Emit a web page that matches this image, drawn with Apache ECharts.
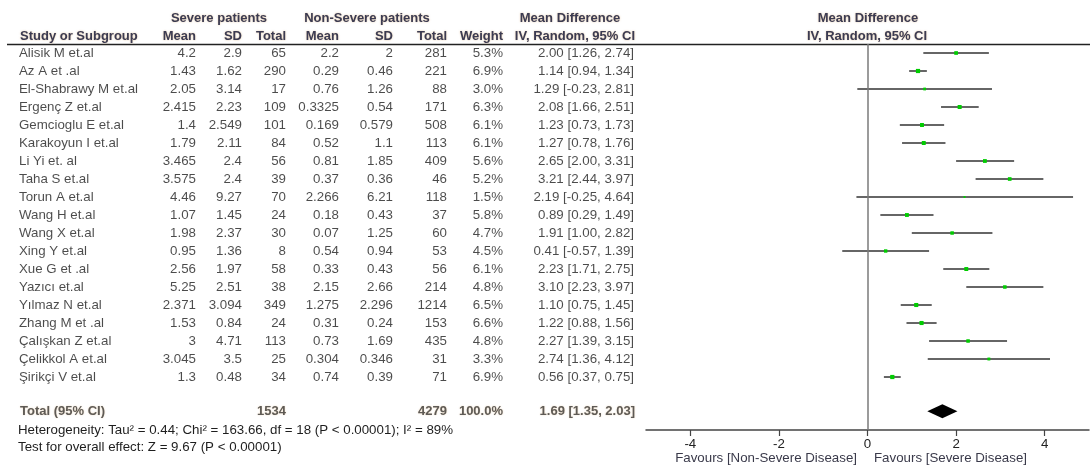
<!DOCTYPE html>
<html>
<head>
<meta charset="utf-8">
<script src="https://cdn.jsdelivr.net/npm/echarts@6/dist/echarts.min.js"></script>
<style>
  html, body { margin: 0; padding: 0; background: #fff; }
  #chart { width: 1090px; height: 468px; }
</style>
</head>
<body>
<div id="chart"></div>
<script>
// ---- Study data ----
const studies = ["Alisik M et.al", "Az A et .al", "El-Shabrawy M et.al", "Ergenç Z et.al", "Gemcioglu E et.al",
  "Karakoyun I et.al", "Li Yi et. al", "Taha S et.al", "Torun A et.al", "Wang H et.al", "Wang X et.al",
  "Xing Y et.al", "Xue G et .al", "Yazıcı et.al", "Yılmaz N et.al", "Zhang M et .al", "Çalışkan Z et.al",
  "Çelikkol A et.al", "Şirikçi V et.al"];
const severeMean = ["4.2", "1.43", "2.05", "2.415", "1.4", "1.79", "3.465", "3.575", "4.46", "1.07", "1.98",
  "0.95", "2.56", "5.25", "2.371", "1.53", "3", "3.045", "1.3"];
const severeSD = ["2.9", "1.62", "3.14", "2.23", "2.549", "2.11", "2.4", "2.4", "9.27", "1.45", "2.37",
  "1.36", "1.97", "2.51", "3.094", "0.84", "4.71", "3.5", "0.48"];
const severeTotal = [65, 290, 17, 109, 101, 84, 56, 39, 70, 24, 30, 8, 58, 38, 349, 24, 113, 25, 34];
const nonSevereMean = ["2.2", "0.29", "0.76", "0.3325", "0.169", "0.52", "0.81", "0.37", "2.266", "0.18", "0.07",
  "0.54", "0.33", "2.15", "1.275", "0.31", "0.73", "0.304", "0.74"];
const nonSevereSD = ["2", "0.46", "1.26", "0.54", "0.579", "1.1", "1.85", "0.36", "6.21", "0.43", "1.25",
  "0.94", "0.43", "2.66", "2.296", "0.24", "1.69", "0.346", "0.39"];
const nonSevereTotal = [281, 221, 88, 171, 508, 113, 409, 46, 118, 37, 60, 53, 56, 214, 1214, 153, 435, 31, 71];
const weights = [5.3, 6.9, 3.0, 6.3, 6.1, 6.1, 5.6, 5.2, 1.5, 5.8, 4.7, 4.5, 6.1, 4.8, 6.5, 6.6, 4.8, 3.3, 6.9];
const meanDiff = [2.00, 1.14, 1.29, 2.08, 1.23, 1.27, 2.65, 3.21, 2.19, 0.89, 1.91, 0.41, 2.23, 3.10, 1.10, 1.22, 2.27, 2.74, 0.56];
const ciLow = [1.26, 0.94, -0.23, 1.66, 0.73, 0.78, 2.00, 2.44, -0.25, 0.29, 1.00, -0.57, 1.71, 2.23, 0.75, 0.88, 1.39, 1.36, 0.37];
const ciHigh = [2.74, 1.34, 2.81, 2.51, 1.73, 1.76, 3.31, 3.97, 4.64, 1.49, 2.82, 1.39, 2.75, 3.97, 1.45, 1.56, 3.15, 4.12, 0.75];

// ---- Pooled result ----
const totalLabel = "Total (95% CI)";
const totalSevere = "1534";
const totalNonSevere = "4279";
const totalWeight = "100.0%";
const pooled = [1.69, 1.35, 2.03]; // mean difference, lower, upper
const heterogeneityText = "Heterogeneity: Tau² = 0.44; Chi² = 163.66, df = 18 (P < 0.00001); I² = 89%";
const overallEffectText = "Test for overall effect: Z = 9.67 (P < 0.00001)";

// ---- Axis ----
const axisTicks = [-4, -2, 0, 2, 4];
const favoursLeft = "Favours [Non-Severe Disease]";
const favoursRight = "Favours [Severe Disease]";

// ---- Layout ----
const FONT = '"Liberation Sans", Arial, sans-serif';
const TEXT_SIZE = 13.3;
const TOTAL_ROW = 19.9;
const yAxisCfg = (gi) => ({ gridIndex: gi, type: 'value', inverse: true, min: -0.5, max: 20.944, show: false });
const fmt2 = (v) => v.toFixed(2);
const ciText = (m, l, h) => `${fmt2(m)} [${fmt2(l)}, ${fmt2(h)}]`;

// Table columns: text values and the x anchor of each column in the table grid
const tableCols = [
  { values: studies, x: 19, side: 'right' },
  { values: severeMean, x: 196 },
  { values: severeSD, x: 242 },
  { values: severeTotal, x: 286 },
  { values: nonSevereMean, x: 339 },
  { values: nonSevereSD, x: 393 },
  { values: nonSevereTotal, x: 447 },
  { values: weights.map(w => w.toFixed(1) + '%'), x: 503 },
  { values: meanDiff.map((m, i) => ciText(m, ciLow[i], ciHigh[i])), x: 634 }
];
const totalCols = [
  { text: totalLabel, x: 20, side: 'right' },
  { text: totalSevere, x: 286 },
  { text: totalNonSevere, x: 447 },
  { text: totalWeight, x: 503 },
  { text: ciText(pooled[0], pooled[1], pooled[2]), x: 635 }
];

const headColor = '#3b3b52';
const headShadow = 'rgba(205,150,80,0.55)';

const tableSeries = tableCols.map(col => ({
  type: 'scatter', xAxisIndex: 1, yAxisIndex: 1, symbolSize: 0, silent: true,
  data: col.values.map((v, i) => [col.x, i, String(v)]),
  label: {
    show: true, position: col.side || 'left', distance: 0,
    formatter: p => p.data[2], color: '#1e1e1e', fontSize: TEXT_SIZE, fontFamily: FONT
  }
}));
const totalSeries = totalCols.map(col => ({
  type: 'scatter', xAxisIndex: 1, yAxisIndex: 1, symbolSize: 0, silent: true,
  data: [[col.x, TOTAL_ROW, col.text]],
  label: {
    show: true, position: col.side || 'left', distance: 0,
    formatter: p => p.data[2], color: '#3a3a3a', fontSize: 13, fontWeight: 'bold', fontFamily: FONT,
    textShadowColor: headShadow, textShadowBlur: 1.5
  }
}));

const forestData = studies.map((s, i) => [i, meanDiff[i], ciLow[i], ciHigh[i], weights[i]]);

function headText(text, x, y, align) {
  return {
    type: 'text', x, y, silent: true,
    style: {
      text, fill: headColor, font: 'bold 13px ' + FONT,
      textAlign: align, textVerticalAlign: 'middle',
      textShadowColor: headShadow, textShadowBlur: 2
    }
  };
}
function plainText(text, x, y, align, color) {
  return {
    type: 'text', x, y, silent: true,
    style: { text, fill: color || '#1e1e1e', font: TEXT_SIZE + 'px ' + FONT, textAlign: align, textVerticalAlign: 'middle' }
  };
}

const option = {
  animation: false,
  backgroundColor: '#fff',
  grid: [
    { left: 646, width: 443, top: 44, height: 386 },
    { left: 0, width: 640, top: 44, height: 386 }
  ],
  xAxis: [
    {
      gridIndex: 0, type: 'value', min: -5, max: 5,
      axisLine: { show: true, onZero: false, lineStyle: { color: '#444', width: 1.5 } },
      axisTick: { show: true, customValues: axisTicks, length: 6, lineStyle: { color: '#444', width: 1.2 } },
      axisLabel: { customValues: axisTicks, color: '#222', fontSize: TEXT_SIZE, fontFamily: FONT, margin: 8 },
      splitLine: { show: false }
    },
    { gridIndex: 1, type: 'value', min: 0, max: 640, show: false }
  ],
  yAxis: [yAxisCfg(0), yAxisCfg(1)],
  series: [
    {
      type: 'custom', xAxisIndex: 0, yAxisIndex: 0, silent: true,
      data: forestData,
      encode: { x: [1, 2, 3], y: 0 },
      renderItem(params, api) {
        const row = api.value(0);
        const pl = api.coord([api.value(2), row]);
        const ph = api.coord([api.value(3), row]);
        const pm = api.coord([api.value(1), row]);
        const s = 1.6 * Math.sqrt(api.value(4));
        return {
          type: 'group', children: [
            { type: 'line', shape: { x1: pl[0], y1: pl[1], x2: ph[0], y2: ph[1] }, style: { stroke: '#333', lineWidth: 1.5 } },
            { type: 'rect', shape: { x: pm[0] - s / 2, y: pm[1] - s / 2, width: s, height: s }, style: { fill: '#00cc00' } }
          ]
        };
      },
      markLine: {
        silent: true, symbol: 'none', label: { show: false },
        lineStyle: { color: '#7a7a7a', width: 1.5, type: 'solid' },
        data: [{ xAxis: 0 }]
      }
    },
    {
      type: 'custom', xAxisIndex: 0, yAxisIndex: 0, silent: true,
      data: [[TOTAL_ROW, pooled[0], pooled[1], pooled[2]]],
      encode: { x: [1, 2, 3], y: 0 },
      renderItem(params, api) {
        const row = api.value(0);
        const pl = api.coord([api.value(2), row]);
        const ph = api.coord([api.value(3), row]);
        const pm = api.coord([api.value(1), row]);
        const h = 7;
        return {
          type: 'polygon',
          shape: { points: [[pl[0], pl[1]], [pm[0], pm[1] - h], [ph[0], ph[1]], [pm[0], pm[1] + h]] },
          style: { fill: '#000' }
        };
      }
    },
    ...tableSeries,
    ...totalSeries
  ],
  graphic: [
    { type: 'line', silent: true, shape: { x1: 7, y1: 44.5, x2: 1090, y2: 44.5 }, style: { stroke: '#222', lineWidth: 1.5 } },
    headText('Severe patients', 219, 18, 'center'),
    headText('Non-Severe patients', 367, 18, 'center'),
    headText('Mean Difference', 570, 18, 'center'),
    headText('Mean Difference', 868, 18, 'center'),
    headText('Study or Subgroup', 20, 36, 'left'),
    headText('Mean', 196, 36, 'right'),
    headText('SD', 242, 36, 'right'),
    headText('Total', 286, 36, 'right'),
    headText('Mean', 339, 36, 'right'),
    headText('SD', 393, 36, 'right'),
    headText('Total', 447, 36, 'right'),
    headText('Weight', 503, 36, 'right'),
    headText('IV, Random, 95% CI', 635, 36, 'right'),
    headText('IV, Random, 95% CI', 867, 36, 'center'),
    plainText(heterogeneityText, 18, 430, 'left'),
    plainText(overallEffectText, 18, 447, 'left'),
    plainText(favoursLeft, 857, 458, 'right', '#3a3a4a'),
    plainText(favoursRight, 874, 458, 'left', '#3a3a4a')
  ]
};

const chart = echarts.init(document.getElementById('chart'), null, { renderer: 'canvas' });
chart.setOption(option);
</script>
</body>
</html>
